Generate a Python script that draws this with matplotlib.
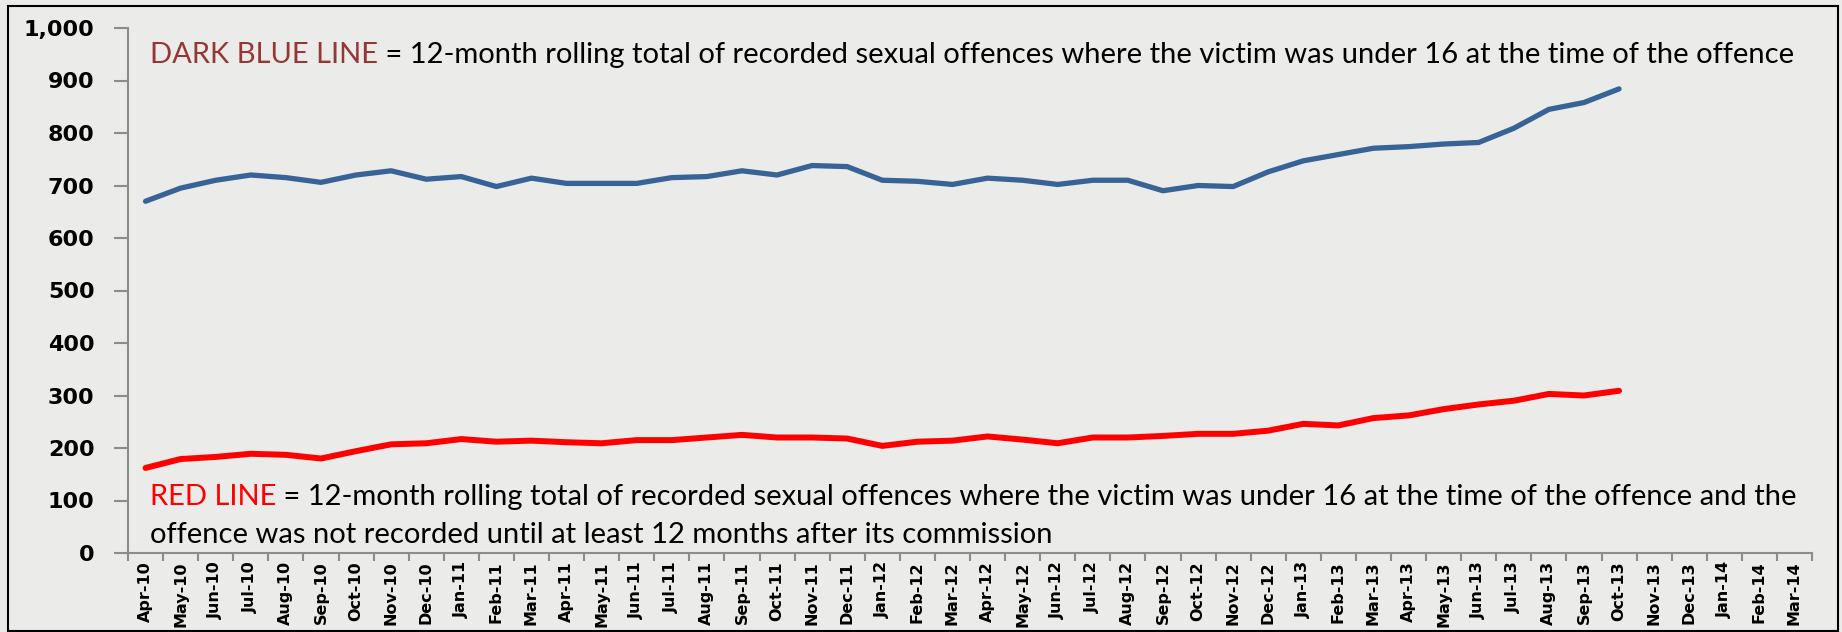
import numpy as np
import matplotlib.pyplot as plt
from matplotlib.patches import Rectangle

# months on the x axis (Apr-10 .. Mar-14)
months = ['Apr-10', 'May-10', 'Jun-10', 'Jul-10', 'Aug-10', 'Sep-10', 'Oct-10', 'Nov-10', 'Dec-10',
          'Jan-11', 'Feb-11', 'Mar-11', 'Apr-11', 'May-11', 'Jun-11', 'Jul-11', 'Aug-11', 'Sep-11',
          'Oct-11', 'Nov-11', 'Dec-11', 'Jan-12', 'Feb-12', 'Mar-12', 'Apr-12', 'May-12', 'Jun-12',
          'Jul-12', 'Aug-12', 'Sep-12', 'Oct-12', 'Nov-12', 'Dec-12', 'Jan-13', 'Feb-13', 'Mar-13',
          'Apr-13', 'May-13', 'Jun-13', 'Jul-13', 'Aug-13', 'Sep-13', 'Oct-13', 'Nov-13', 'Dec-13',
          'Jan-14', 'Feb-14', 'Mar-14']

# 12-month rolling totals, victim under 16 (dark blue)
under16 = [670, 695, 710, 720, 715, 706, 720, 728, 712, 717, 698, 714, 704, 704, 704, 715,
           717, 728, 720, 738, 736, 710, 708, 702, 714, 710, 702, 710, 710, 690, 700, 698,
           726, 747, 759, 771, 774, 779, 782, 809, 845, 858, 884]

# ... and recorded at least 12 months after commission (red)
delayed = [162, 179, 183, 189, 187, 180, 194, 207, 209, 217, 212, 214, 211, 209, 215, 215,
           220, 225, 220, 220, 218, 204, 212, 214, 222, 216, 209, 220, 220, 223, 227, 227,
           233, 246, 243, 257, 262, 274, 283, 290, 303, 300, 309]

yticks = [0, 100, 200, 300, 400, 500, 600, 700, 800, 900, 1000]

W, H = 1842, 632
bg = '#ebebe9'
fig = plt.figure(figsize=(W / 100, H / 100), dpi=100, facecolor=bg)
ax = fig.add_axes([128 / W, (H - 553) / H, (1812 - 128) / W, (553 - 28) / H])
ax.set_facecolor(bg)

x = np.arange(len(months))
ax.plot(x[:len(under16)], under16, color='#386396', lw=3.8, solid_capstyle='round', solid_joinstyle='round')
ax.plot(x[:len(delayed)], delayed, color='#ff0000', lw=4.3, solid_capstyle='round', solid_joinstyle='round')

ax.set_xlim(-0.5, len(months) - 0.5)
ax.set_ylim(0, 1000)

# y axis
ax.set_yticks(yticks)
ax.set_yticklabels([f'{v:,}' for v in yticks], fontsize=16, fontweight='bold', family='DejaVu Sans')
ax.tick_params(axis='y', length=10, width=1.5, color='#8c8c8c', pad=14, direction='out')

# x axis: labels at centres, ticks between categories
ax.set_xticks(x)
ax.set_xticklabels(months, rotation=90, fontsize=11.5, fontweight='bold', family='Liberation Sans Narrow')
ax.tick_params(axis='x', length=0, pad=6)
ax.set_xticks(np.arange(len(months) + 1) - 0.5, minor=True)
ax.tick_params(axis='x', which='minor', length=6, width=1.5, color='#8c8c8c', direction='out')

for s in ['top', 'right']:
    ax.spines[s].set_visible(False)
for s in ['left', 'bottom']:
    ax.spines[s].set_color('#8c8c8c')
    ax.spines[s].set_linewidth(1.5)

# outer black frame
fig.patches.append(Rectangle((8 / W, 1 / H), (W - 12) / W, (H - 7) / H, transform=fig.transFigure,
                             fill=False, edgecolor='black', lw=1.5))

# annotations with coloured lead-in
fig.canvas.draw()
renderer = fig.canvas.get_renderer()
fs = 21
font = 'Lato'


def two_part(xp, yp, first, color, rest):
    t1 = fig.text(xp / W, 1 - yp / H, first, color=color, fontsize=fs, family=font, va='baseline')
    bb = t1.get_window_extent(renderer)
    fig.text(bb.x1 / W, 1 - yp / H, rest, color='black', fontsize=fs, family=font, va='baseline')


two_part(150, 63, 'DARK BLUE LINE', '#953735',
         ' = 12-month rolling total of recorded sexual offences where the victim was under 16 at the time of the offence')
two_part(150, 505, 'RED LINE', '#ff0000',
         ' = 12-month rolling total of recorded sexual offences where the victim was under 16 at the time of the offence and the')
fig.text(150 / W, 1 - 543 / H, 'offence was not recorded until at least 12 months after its commission',
         color='black', fontsize=fs, family=font, va='baseline')

fig.savefig('out.png', dpi=100, facecolor=bg)
